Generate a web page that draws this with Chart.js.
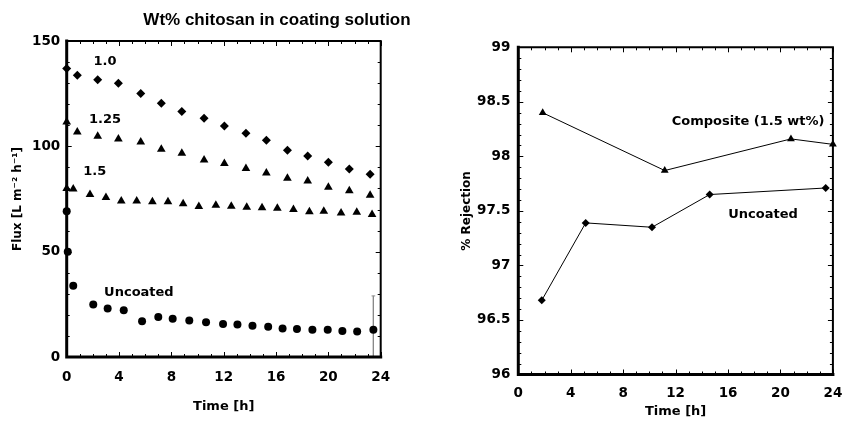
<!DOCTYPE html>
<html><head><meta charset="utf-8">
<script src="https://cdn.jsdelivr.net/npm/chart.js@4/dist/chart.umd.min.js"></script>
<style>
html,body{margin:0;padding:0;background:#fff;width:853px;height:422px;overflow:hidden}
.w{position:absolute;top:0}
</style></head><body>
<div class="w" style="left:0;width:554px;height:422px"><canvas id="c1" width="554" height="422"></canvas></div>
<div class="w" style="left:430px;width:423px;height:422px"><canvas id="c2" width="423" height="422"></canvas></div>
<script>
// ---------- Left panel data (Flux vs time) ----------
const t10  = [0, 0.81, 2.37, 3.95, 5.66, 7.23, 8.8, 10.5, 12.05, 13.7, 15.26, 16.87, 18.42, 20.0, 21.6, 23.19];
const f10  = [137, 133.7, 131.6, 129.9, 125.1, 120.5, 116.5, 113.3, 109.7, 106.2, 102.9, 98.1, 95.4, 92.4, 89.2, 86.8];
const t125 = [0, 0.81, 2.37, 3.95, 5.66, 7.23, 8.8, 10.5, 12.05, 13.7, 15.26, 16.87, 18.42, 20.0, 21.6, 23.19];
const f125 = [111.6, 106.8, 104.8, 103.5, 102, 98.6, 96.7, 93.5, 91.8, 89.5, 87.3, 84.9, 83.5, 80.6, 78.9, 76.8];
const t15  = [0, 0.5, 1.78, 3.0, 4.17, 5.35, 6.55, 7.74, 8.9, 10.1, 11.4, 12.58, 13.76, 14.93, 16.1, 17.33, 18.55, 19.65, 20.97, 22.17, 23.34];
const f15  = [80, 79.8, 77.1, 75.7, 74.1, 74.0, 73.7, 73.7, 72.7, 71.4, 72.0, 71.6, 71.1, 70.8, 70.6, 70.0, 69.0, 69.2, 68.4, 68.7, 67.6];
const tUnc = [0, 0.08, 0.5, 2.03, 3.13, 4.36, 5.76, 7.0, 8.1, 9.37, 10.65, 11.95, 13.05, 14.2, 15.4, 16.5, 17.6, 18.78, 19.95, 21.07, 22.2, 23.44];
const fUnc = [69.2, 50, 33.8, 24.9, 23.0, 22.2, 17.0, 19.0, 18.1, 17.3, 16.5, 15.7, 15.4, 14.8, 14.3, 13.5, 13.3, 12.9, 12.9, 12.4, 12.1, 12.9];
const errT = [23.44, 23.44];
const errF = [29, 0];
const capT = [23.3, 23.58];
const capF = [29, 29];
const leftLabels = ['1.0', '1.25', '1.5', 'Uncoated'];
const leftTitle = 'Wt% chitosan in coating solution';
const leftYTitle = 'Flux [L m\u207B\u00B2 h\u207B\u00B9]';
const xTitle = 'Time [h]';

// ---------- Right panel data (% Rejection vs time) ----------
const tComp = [1.86, 11.17, 20.8, 24.0];
const rComp = [98.40, 97.87, 98.16, 98.11];
const tUnc2 = [1.79, 5.14, 10.2, 14.6, 23.45];
const rUnc2 = [96.68, 97.39, 97.35, 97.65, 97.71];
const rightLabels = ['Composite (1.5 wt%)', 'Uncoated'];
const rightYTitle = '% Rejection';

const pts = (xs, ys) => xs.map((x, i) => ({x, y: ys[i]}));
const FONT = 'DejaVu Sans';
const tickFont = {family: FONT, size: 13.5, weight: 'bold'};
const axTitleFont = {family: FONT, size: 12, weight: 'bold'};
const xTitleFont = {family: FONT, size: 13, weight: 'bold'};

// frame + inside ticks drawn from the chart's own scales
function framePlugin(cfg) {
  return {
    id: 'frame',
    afterDatasetsDraw(chart) {
      const {ctx, chartArea: a, scales} = chart;
      const x = scales.x, y = scales.y;
      ctx.save();
      ctx.strokeStyle = '#000';
      ctx.lineWidth = 1;
      const draw = (scale, step, major, horiz) => {
        const n = Math.round((scale.max - scale.min) / step);
        for (let i = 0; i <= n; i++) {
          const v = scale.min + i * step;
          const r = v / major;
          const isMaj = Math.abs(r - Math.round(r)) < 1e-6;
          const len = isMaj ? 5 : 3;
          const p = Math.round(scale.getPixelForValue(v)) + 0.5;
          ctx.beginPath();
          if (horiz) {
            ctx.moveTo(p, a.bottom); ctx.lineTo(p, a.bottom - len);
            ctx.moveTo(p, a.top); ctx.lineTo(p, a.top + len);
          } else {
            ctx.moveTo(a.left, p); ctx.lineTo(a.left + len, p);
            ctx.moveTo(a.right, p); ctx.lineTo(a.right - len, p);
          }
          ctx.stroke();
        }
      };
      draw(x, cfg.xMinor, cfg.xMajor, true);
      draw(y, cfg.yMinor, cfg.yMajor, false);
      // frame
      ctx.lineCap = 'square';
      ctx.lineWidth = 3;
      ctx.beginPath();
      ctx.moveTo(a.left, a.top); ctx.lineTo(a.left, a.bottom); ctx.lineTo(a.right, a.bottom);
      ctx.stroke();
      ctx.lineWidth = 2;
      ctx.beginPath();
      ctx.moveTo(a.left, a.top); ctx.lineTo(a.right, a.top); ctx.lineTo(a.right, a.bottom);
      ctx.stroke();
      // annotations positioned in data units
      ctx.fillStyle = '#000';
      ctx.font = 'bold 13px "' + FONT + '"';
      ctx.textBaseline = 'middle';
      cfg.notes.forEach(n => {
        ctx.textAlign = n.align;
        ctx.fillText(n.text, x.getPixelForValue(n.x), y.getPixelForValue(n.y));
      });
      ctx.restore();
    }
  };
}

new Chart(document.getElementById('c1'), {
  type: 'scatter',
  data: {datasets: [
    {data: pts(t10, f10), pointStyle: 'rectRot', pointRadius: 4.5, backgroundColor: '#000', borderColor: '#000', borderWidth: 0, clip: false},
    {data: pts(t125, f125), pointStyle: 'triangle', pointRadius: 5, backgroundColor: '#000', borderColor: '#000', borderWidth: 0, clip: false},
    {data: pts(t15, f15), pointStyle: 'triangle', pointRadius: 5, backgroundColor: '#000', borderColor: '#000', borderWidth: 0, clip: false},
    {data: pts(tUnc, fUnc), pointStyle: 'circle', pointRadius: 4, backgroundColor: '#000', borderColor: '#000', borderWidth: 0, clip: false},
    {data: pts(errT, errF), showLine: true, pointRadius: 0, borderColor: '#8a8a8a', borderWidth: 1},
    {data: pts(capT, capF), showLine: true, pointRadius: 0, borderColor: '#8a8a8a', borderWidth: 1}
  ]},
  options: {
    responsive: false, animation: false, devicePixelRatio: 1,
    layout: {padding: 0},
    plugins: {
      legend: {display: false}, tooltip: {enabled: false},
      title: {display: true, text: leftTitle, color: '#000',
        font: {family: 'Liberation Sans', size: 17, weight: 'bold'}, padding: {top: 10.3, bottom: 10.3}}
    },
    scales: {
      x: {type: 'linear', min: 0, max: 24,
        ticks: {stepSize: 4, font: tickFont, color: '#000', padding: 12, maxRotation: 0},
        grid: {display: false, drawTicks: false}, border: {display: false},
        title: {display: true, text: xTitle, color: '#000', font: xTitleFont, padding: {top: 0, bottom: 8}},
        afterFit(s) { s.height = 65; }},
      y: {min: 0, max: 150,
        ticks: {stepSize: 50, font: tickFont, color: '#000', padding: 6.5},
        grid: {display: false, drawTicks: false}, border: {display: false},
        title: {display: true, text: leftYTitle, color: '#000', font: axTitleFont, padding: {top: 11, bottom: 0}},
        afterFit(s) { s.width = 66.7; }},
      y2: {position: 'right', display: true,
        ticks: {display: false}, grid: {display: false, drawTicks: false}, border: {display: false},
        afterFit(s) { s.width = 173.3; }}
    }
  },
  plugins: [framePlugin({xMinor: 1, xMajor: 4, yMinor: 10, yMajor: 50, notes: [
    {text: leftLabels[0], x: 2.93, y: 140, align: 'center'},
    {text: leftLabels[1], x: 2.93, y: 112.5, align: 'center'},
    {text: leftLabels[2], x: 2.14, y: 87.8, align: 'center'},
    {text: leftLabels[3], x: 2.86, y: 30.6, align: 'left'}
  ]})]
});

new Chart(document.getElementById('c2'), {
  type: 'scatter',
  data: {datasets: [
    {data: pts(tComp, rComp), showLine: true, pointStyle: 'triangle', pointRadius: 4.5, backgroundColor: '#000', pointBorderWidth: 0, borderColor: '#000', borderWidth: 1, clip: false},
    {data: pts(tUnc2, rUnc2), showLine: true, pointStyle: 'rectRot', pointRadius: 4, backgroundColor: '#000', pointBorderWidth: 0, borderColor: '#000', borderWidth: 1, clip: false}
  ]},
  options: {
    responsive: false, animation: false, devicePixelRatio: 1,
    layout: {padding: {top: 47.3, right: 12.3, left: 0, bottom: 0}},
    plugins: {legend: {display: false}, tooltip: {enabled: false}},
    scales: {
      x: {type: 'linear', min: 0, max: 24,
        ticks: {stepSize: 4, font: tickFont, color: '#000', padding: 10.7, maxRotation: 0},
        grid: {display: false, drawTicks: false}, border: {display: false},
        title: {display: true, text: xTitle, color: '#000', font: xTitleFont, padding: {top: 0, bottom: 3}},
        afterFit(s) { s.height = 47.5; }},
      y: {min: 96, max: 99,
        ticks: {stepSize: 0.5, font: tickFont, color: '#000', padding: 8,
          callback: v => String(Math.round(v * 10) / 10)},
        grid: {display: false, drawTicks: false}, border: {display: false},
        title: {display: true, text: rightYTitle, color: '#000', font: axTitleFont, padding: {top: 29.5, bottom: 0}},
        afterFit(s) { s.width = 88.3; }}
    }
  },
  plugins: [framePlugin({xMinor: 1, xMajor: 4, yMinor: 0.1, yMajor: 0.5, notes: [
    {text: rightLabels[0], x: 17.53, y: 98.317, align: 'center'},
    {text: rightLabels[1], x: 18.67, y: 97.47, align: 'center'}
  ]})]
});
</script>
</body></html>
